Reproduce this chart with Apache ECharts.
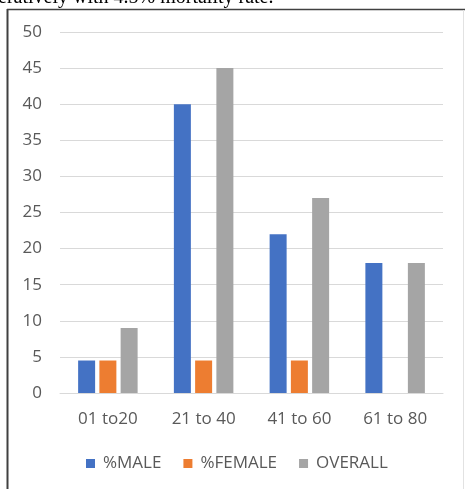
<!DOCTYPE html>
<html>
<head>
<meta charset="utf-8">
<script src="https://cdn.jsdelivr.net/npm/echarts@6/dist/echarts.min.js"></script>
<style>
  html, body { margin: 0; padding: 0; background: #fff; }
  #chart { width: 465px; height: 489px; }
</style>
</head>
<body>
<div id="chart"></div>
<script>
// Age groups and mortality percentages by sex
const ageGroups = ['01 to20', '21 to 40', '41 to 60', '61 to 80'];
const maleValues = [4.5, 40, 22, 18];
const femaleValues = [4.5, 4.5, 4.5, 0];
const overallValues = [9, 45, 27, 18];
const seriesNames = ['%MALE', '%FEMALE', 'OVERALL'];
const yTicks = { min: 0, max: 50, interval: 5 };

const colors = ['#4472C4', '#ED7D31', '#A5A5A5'];
const labelFont = '"Open Sans", Lato, sans-serif';

const chart = echarts.init(document.getElementById('chart'), null, { renderer: 'canvas' });

const makeSeries = (name, data) => ({
  name: name,
  type: 'bar',
  data: data,
  barWidth: 17,
  barGap: '25%'
});

chart.setOption({
  animation: false,
  color: colors,
  graphic: [
    {
      type: 'text',
      left: -2,
      top: -12,
      style: {
        text: 'eratively with 4.5% mortality rate.',
        font: '20px "Liberation Serif", "Times New Roman", serif',
        fill: '#000'
      }
    },
    { type: 'line', shape: { x1: 7.5, y1: 9, x2: 7.5, y2: 489 }, style: { stroke: '#404040', lineWidth: 2 } },
    { type: 'line', shape: { x1: 7, y1: 9.5, x2: 465, y2: 9.5 }, style: { stroke: '#404040', lineWidth: 1.5 } },
    { type: 'line', shape: { x1: 463.5, y1: 10, x2: 463.5, y2: 489 }, style: { stroke: '#e2e2e2', lineWidth: 1 } }
  ],
  grid: { left: 60, right: 22, top: 32, bottom: 96, containLabel: false },
  legend: {
    data: seriesNames,
    bottom: 17,
    left: 86,
    padding: 0,
    icon: 'rect',
    itemWidth: 9,
    itemHeight: 9,
    itemGap: 22,
    textStyle: { color: '#595959', fontSize: 17, fontFamily: labelFont, padding: [0, 0, 0, 3] }
  },
  xAxis: {
    type: 'category',
    data: ageGroups,
    axisLine: { show: true, lineStyle: { color: '#d9d9d9', width: 1 } },
    axisTick: { show: false },
    axisLabel: { color: '#595959', fontSize: 17, fontFamily: labelFont, margin: 18 }
  },
  yAxis: {
    type: 'value',
    min: yTicks.min,
    max: yTicks.max,
    interval: yTicks.interval,
    axisLine: { show: false },
    axisTick: { show: false },
    splitLine: { lineStyle: { color: '#d9d9d9', width: 1 } },
    axisLabel: { color: '#595959', fontSize: 17, fontFamily: labelFont, margin: 18 }
  },
  series: [
    makeSeries(seriesNames[0], maleValues),
    makeSeries(seriesNames[1], femaleValues),
    makeSeries(seriesNames[2], overallValues)
  ]
});
</script>
</body>
</html>
